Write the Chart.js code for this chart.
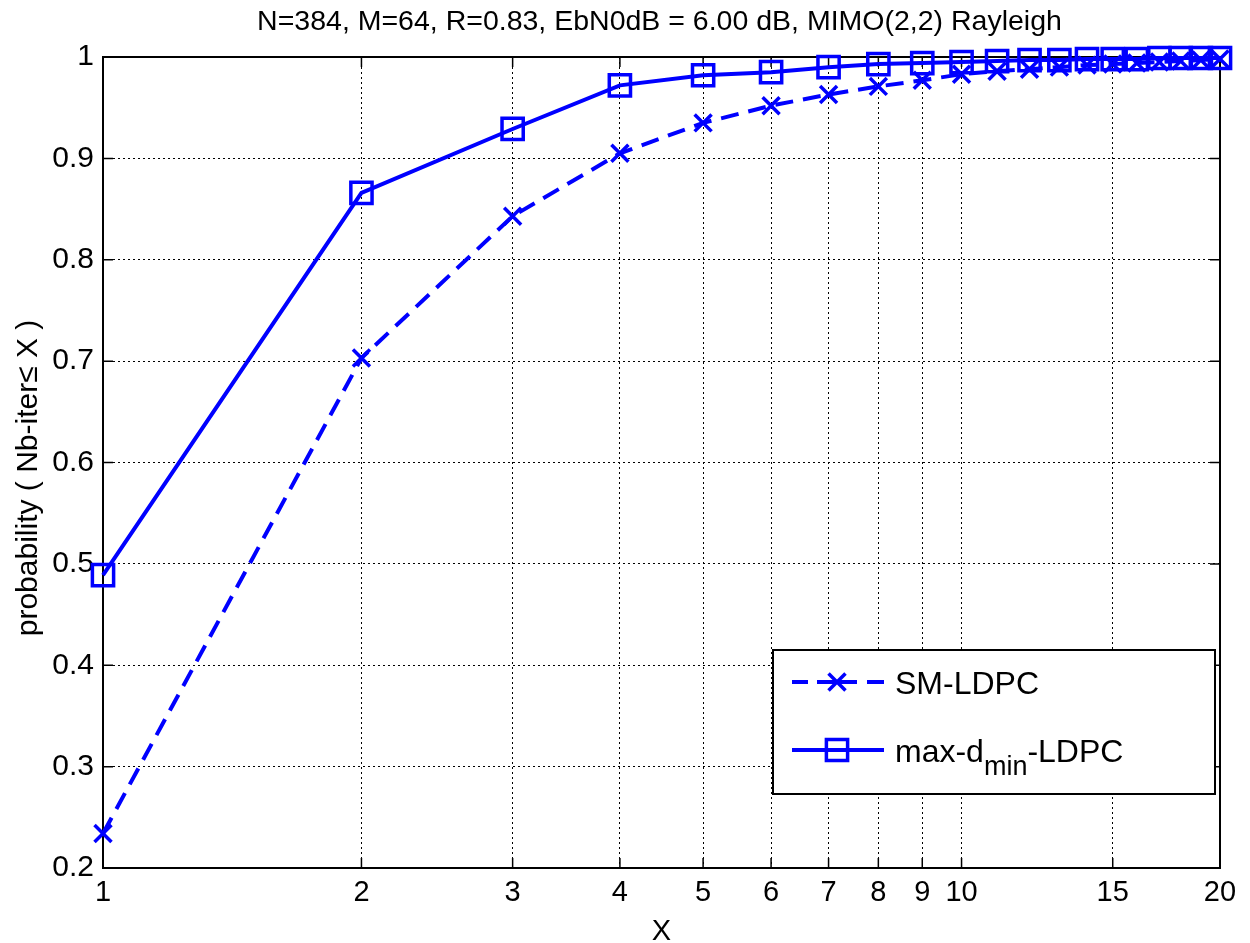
<!DOCTYPE html>
<html>
<head>
<meta charset="utf-8">
<script src="https://cdn.jsdelivr.net/npm/chart.js@4.4.1/dist/chart.umd.min.js"></script>
<style>
html,body{margin:0;padding:0;background:#ffffff;}
#wrap{width:1250px;height:943px;position:relative;}
canvas{display:block;}
</style>
</head>
<body>
<div id="wrap"><canvas id="c" width="1250" height="943"></canvas></div>
<script>
// ---------------- data ----------------
const xValues = [1, 2, 3, 4, 5, 6, 7, 8, 9, 10, 11, 12, 13, 14, 15, 16, 17, 18, 19, 20];
const smLdpc = [0.234, 0.703, 0.843, 0.905, 0.935, 0.952, 0.963, 0.971, 0.977, 0.983,
                0.986, 0.988, 0.990, 0.992, 0.993, 0.994, 0.995, 0.996, 0.997, 0.998];
const maxDminLdpc = [0.489, 0.866, 0.929, 0.972, 0.982, 0.985, 0.990, 0.993, 0.994, 0.995,
                     0.996, 0.997, 0.997, 0.998, 0.998, 0.998, 0.999, 0.999, 0.999, 0.999];
const seriesNames = ['SM-LDPC', 'max-d_{min}-LDPC'];
const xTickValues = [1, 2, 3, 4, 5, 6, 7, 8, 9, 10, 15, 20];
const yTickValues = [0.2, 0.3, 0.4, 0.5, 0.6, 0.7, 0.8, 0.9, 1.0];
const titleText = 'N=384, M=64, R=0.83, EbN0dB = 6.00 dB, MIMO(2,2) Rayleigh';
const xAxisTitle = 'X';
const yAxisTitle = 'probability ( Nb-iter\u2264 X )';

// ---------------- styling ----------------
const FONT = '"Liberation Sans", Arial, Helvetica, sans-serif';
const BLUE = '#0000ff';

function drawMarker(ctx, style, x, y, r, bw, color) {
  ctx.save();
  ctx.setLineDash([]);
  ctx.strokeStyle = color;
  ctx.lineWidth = bw;
  ctx.beginPath();
  if (style === 'rect') {
    const s = Math.SQRT1_2 * r;
    ctx.rect(x - s, y - s, 2 * s, 2 * s);
  } else {
    const o = Math.cos(Math.PI / 4) * r;
    ctx.moveTo(x - o, y - o); ctx.lineTo(x + o, y + o);
    ctx.moveTo(x + o, y - o); ctx.lineTo(x - o, y + o);
  }
  ctx.stroke();
  ctx.restore();
}

function drawRich(ctx, text, x, y, size, subSize, subDrop) {
  // supports _{...} subscripts
  const parts = [];
  const re = /_\{([^}]*)\}/g;
  let last = 0, m;
  while ((m = re.exec(text)) !== null) {
    if (m.index > last) parts.push({t: text.slice(last, m.index), sub: false});
    parts.push({t: m[1], sub: true});
    last = re.lastIndex;
  }
  if (last < text.length) parts.push({t: text.slice(last), sub: false});
  let cx = x;
  parts.forEach(p => {
    ctx.font = (p.sub ? subSize : size) + 'px ' + FONT;
    ctx.fillText(p.t, cx, p.sub ? y + subDrop : y);
    cx += ctx.measureText(p.t).width;
  });
}

const matlabPlugin = {
  id: 'matlabLook',
  beforeDatasetsDraw(chart) {
    const {ctx, chartArea: a, scales} = chart;
    ctx.save();
    ctx.setLineDash([]);
    ctx.strokeStyle = '#000';
    ctx.lineWidth = 1.5;
    const tl = 10;
    ctx.beginPath();
    scales.x.ticks.forEach(t => {
      const px = scales.x.getPixelForValue(t.value);
      ctx.moveTo(px, a.bottom); ctx.lineTo(px, a.bottom - tl);
      ctx.moveTo(px, a.top); ctx.lineTo(px, a.top + tl);
    });
    scales.y.ticks.forEach(t => {
      const py = scales.y.getPixelForValue(t.value);
      ctx.moveTo(a.left, py); ctx.lineTo(a.left + tl, py);
      ctx.moveTo(a.right, py); ctx.lineTo(a.right - tl, py);
    });
    ctx.stroke();
    ctx.lineWidth = 2;
    ctx.strokeRect(a.left, a.top, a.right - a.left, a.bottom - a.top);
    ctx.restore();
  },
  afterDraw(chart) {
    const {ctx, chartArea: a} = chart;
    ctx.save();
    ctx.fillStyle = '#000';
    // title
    ctx.font = '28.5px ' + FONT;
    ctx.textAlign = 'center';
    ctx.textBaseline = 'alphabetic';
    ctx.fillText(titleText, (a.left + a.right) / 2 - 2, 30);
    // x axis title
    ctx.font = '29px ' + FONT;
    ctx.fillText(xAxisTitle, (a.left + a.right) / 2, 940);
    // y axis title
    ctx.save();
    ctx.translate(37, 478);
    ctx.rotate(-Math.PI / 2);
    ctx.font = '30px ' + FONT;
    ctx.fillText(yAxisTitle, 0, 0);
    ctx.restore();

    // legend
    const bx = 773, by = 650, bw = 442, bh = 144;
    ctx.fillStyle = '#fff';
    ctx.fillRect(bx, by, bw, bh);
    ctx.strokeStyle = '#000';
    ctx.lineWidth = 2;
    ctx.setLineDash([]);
    ctx.strokeRect(bx, by, bw, bh);
    const rows = [682, 750];
    chart.data.datasets.forEach((ds, i) => {
      const y = rows[i];
      ctx.save();
      ctx.strokeStyle = ds.borderColor;
      ctx.lineWidth = ds.borderWidth;
      ctx.setLineDash(ds.borderDash && ds.borderDash.length ? [16, 9, 40, 10, 17] : []);
      ctx.beginPath();
      ctx.moveTo(792, y); ctx.lineTo(884, y);
      ctx.stroke();
      ctx.restore();
      drawMarker(ctx, ds.pointStyle, 837, y, ds.pointRadius, ds.pointBorderWidth, ds.borderColor);
      ctx.fillStyle = '#000';
      ctx.textAlign = 'left';
      ctx.textBaseline = 'alphabetic';
      drawRich(ctx, seriesNames[i], 895, y + 12, 32, 27, 13);
    });
    ctx.restore();
  }
};

const ctx = document.getElementById('c').getContext('2d');
new Chart(ctx, {
  type: 'line',
  data: {
    datasets: [
      {
        label: seriesNames[0],
        data: xValues.map((x, i) => ({x: x, y: smLdpc[i]})),
        borderColor: BLUE,
        backgroundColor: 'transparent',
        borderWidth: 4,
        borderDash: [18, 10],
        pointStyle: 'crossRot',
        pointRadius: 12,
        pointBorderWidth: 3.5,
        pointBorderColor: BLUE,
        pointBackgroundColor: 'transparent',
        tension: 0,
        clip: false
      },
      {
        label: seriesNames[1],
        data: xValues.map((x, i) => ({x: x, y: maxDminLdpc[i]})),
        borderColor: BLUE,
        backgroundColor: 'transparent',
        borderWidth: 4,
        borderDash: [],
        pointStyle: 'rect',
        pointRadius: 15,
        pointBorderWidth: 3.5,
        pointBorderColor: BLUE,
        pointBackgroundColor: 'transparent',
        tension: 0,
        clip: false
      }
    ]
  },
  options: {
    responsive: false,
    devicePixelRatio: 1,
    animation: false,
    events: [],
    layout: {padding: {top: 57, right: 30, left: 0, bottom: 0}},
    plugins: {
      legend: {display: false},
      title: {display: false},
      tooltip: {enabled: false}
    },
    scales: {
      x: {
        type: 'logarithmic',
        min: 1,
        max: 20,
        afterBuildTicks: (scale) => { scale.ticks = xTickValues.map(v => ({value: v})); },
        afterFit: (scale) => { scale.height = 75; },
        ticks: {
          callback: (v) => String(v),
          autoSkip: false,
          maxRotation: 0,
          minRotation: 0,
          padding: 8,
          color: '#000',
          font: {family: FONT, size: 29}
        },
        grid: {color: '#000', lineWidth: 1, drawTicks: false},
        border: {display: false, dash: [2, 3]}
      },
      y: {
        type: 'linear',
        min: 0.2,
        max: 1,
        afterBuildTicks: (scale) => { scale.ticks = yTickValues.map(v => ({value: v})); },
        afterFit: (scale) => { scale.width = 103; },
        ticks: {
          callback: (v) => String(Number(v.toFixed(1))),
          padding: 9,
          color: '#000',
          font: {family: FONT, size: 30}
        },
        grid: {color: '#000', lineWidth: 1, drawTicks: false},
        border: {display: false, dash: [2, 3]}
      }
    }
  },
  plugins: [matlabPlugin]
});
</script>
</body>
</html>
